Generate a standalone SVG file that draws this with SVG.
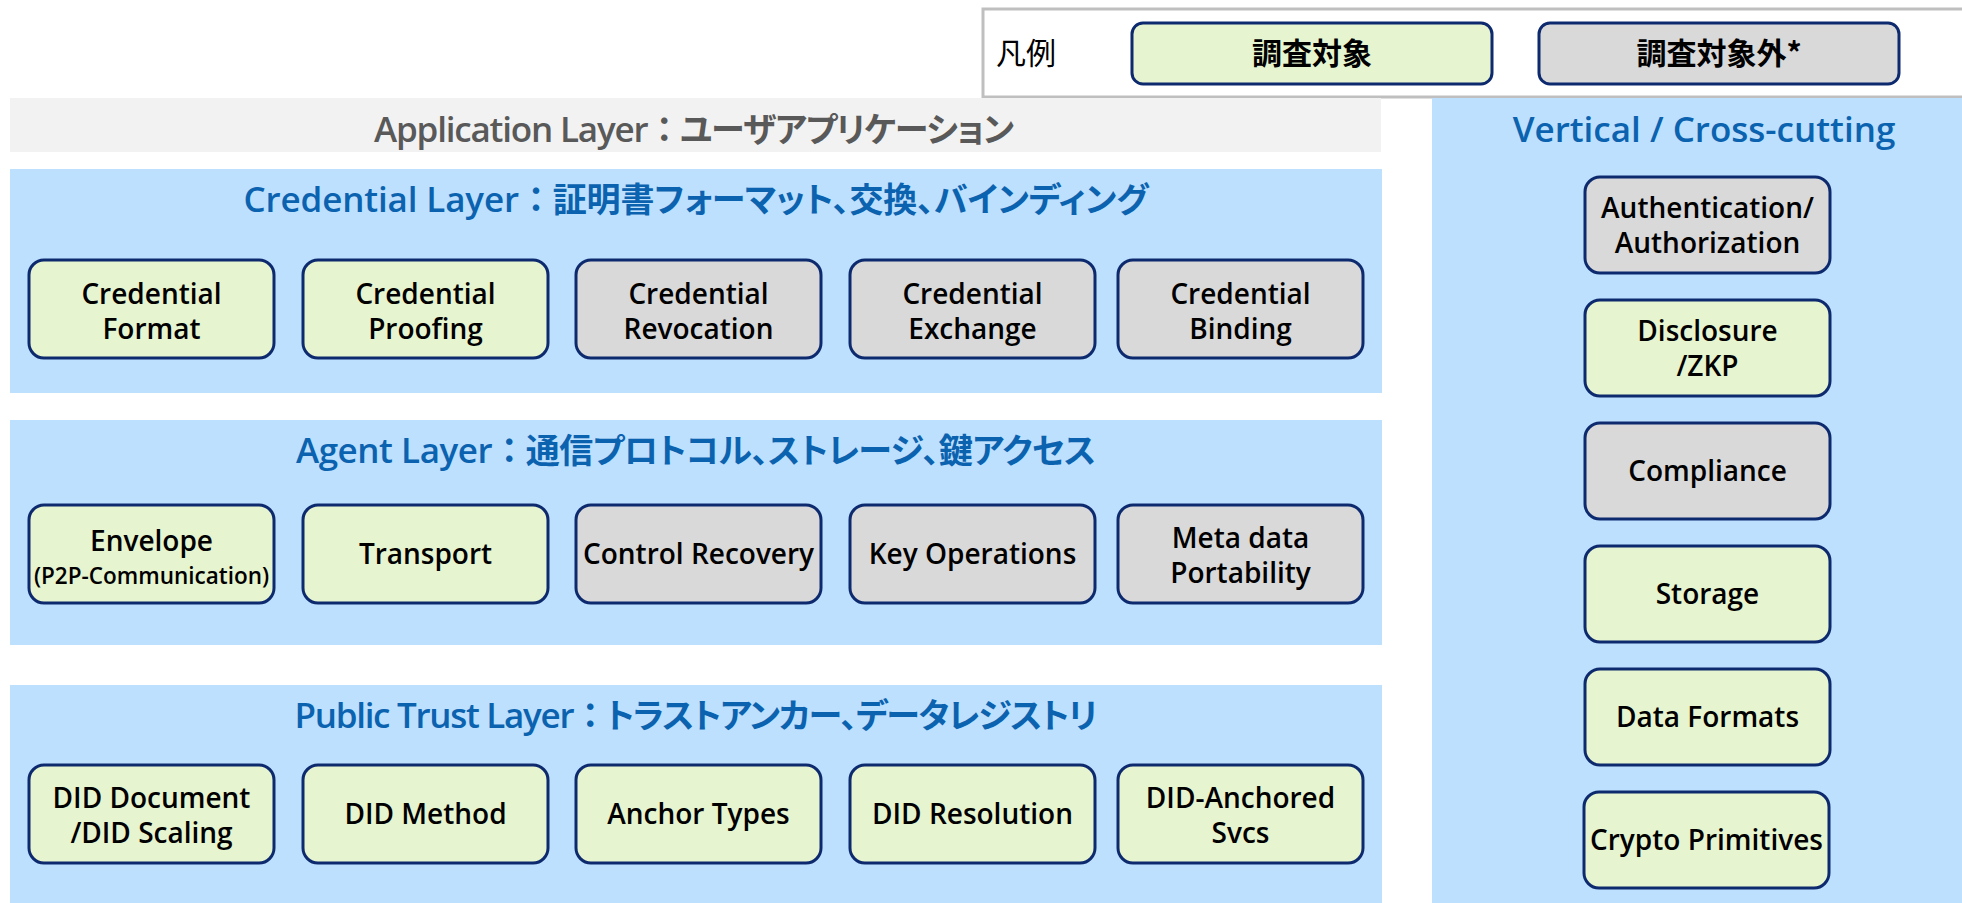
<svg xmlns="http://www.w3.org/2000/svg" width="1962" height="903" viewBox="0 0 1962 903">
  <style>
    .panel { fill: #bde0fe; }
    .box { stroke: #0d2a6e; stroke-width: 3; }
    .in { fill: #e6f4cf; }
    .out { fill: #d9d9d9; }
    .lbl { font-family: "Open Sans", "Noto Sans CJK JP", sans-serif; font-weight: 600; font-size: 28px; fill: #000; text-anchor: middle; }
    .small { font-size: 22.5px; }
    .title { font-family: "Open Sans", "Noto Sans CJK JP", sans-serif; font-weight: 600; font-size: 35px; fill: #0b63b0; text-anchor: middle; }
    .jp { font-family: "Noto Sans CJK JP", sans-serif; font-weight: 700; font-size: 34px; font-feature-settings: "palt"; }
    .colon { font-family: "Noto Sans CJK JP", sans-serif; font-weight: 700; font-size: 34px; }
    .gray { fill: #595959; }
    .leg { font-family: "Noto Sans CJK JP", sans-serif; font-size: 30px; fill: #000; }
    .legb { font-weight: 700; text-anchor: middle; }
  </style>

  <rect width="1962" height="903" fill="#ffffff"/>

  <!-- legend -->
  <g id="legend">
    <rect x="983" y="9" width="990" height="88" fill="#ffffff" stroke="#bfbfbf" stroke-width="3"/>
    <text class="leg" x="996" y="64">凡例</text>
    <rect class="box in" x="1132" y="23" width="360" height="61" rx="11"/>
    <text class="leg legb" x="1312" y="64">調査対象</text>
    <rect class="box out" x="1539" y="23" width="360" height="61" rx="11"/>
    <text class="leg legb" x="1719" y="64">調査対象外*</text>
  </g>

  <!-- application layer bar -->
  <g id="application-layer">
    <rect x="10" y="98" width="1371" height="54" fill="#f2f2f2"/>
    <text class="title gray" x="694" y="142" textLength="640" lengthAdjust="spacing">Application Layer<tspan class="colon">：</tspan><tspan class="jp">ユーザアプリケーション</tspan></text>
  </g>

  <!-- credential layer -->
  <g id="credential-layer">
    <rect class="panel" x="10" y="169" width="1372" height="224"/>
    <text class="title" x="696" y="212" textLength="905" lengthAdjust="spacing">Credential Layer<tspan class="colon">：</tspan><tspan class="jp">証明書フォーマット、交換、バインディング</tspan></text>
  </g>
  <g id="credential-format">
    <rect class="box in" x="29" y="260" width="245" height="98" rx="15"/>
    <text class="lbl" x="151.5" y="304">Credential</text>
    <text class="lbl" x="151.5" y="339">Format</text>
  </g>
  <g id="credential-proofing">
    <rect class="box in" x="303" y="260" width="245" height="98" rx="15"/>
    <text class="lbl" x="425.5" y="304">Credential</text>
    <text class="lbl" x="425.5" y="339">Proofing</text>
  </g>
  <g id="credential-revocation">
    <rect class="box out" x="576" y="260" width="245" height="98" rx="15"/>
    <text class="lbl" x="698.5" y="304">Credential</text>
    <text class="lbl" x="698.5" y="339">Revocation</text>
  </g>
  <g id="credential-exchange">
    <rect class="box out" x="850" y="260" width="245" height="98" rx="15"/>
    <text class="lbl" x="972.5" y="304">Credential</text>
    <text class="lbl" x="972.5" y="339">Exchange</text>
  </g>
  <g id="credential-binding">
    <rect class="box out" x="1118" y="260" width="245" height="98" rx="15"/>
    <text class="lbl" x="1240.5" y="304">Credential</text>
    <text class="lbl" x="1240.5" y="339">Binding</text>
  </g>

  <!-- agent layer -->
  <g id="agent-layer">
    <rect class="panel" x="10" y="420" width="1372" height="225"/>
    <text class="title" x="696" y="463" textLength="800" lengthAdjust="spacing">Agent Layer<tspan class="colon">：</tspan><tspan class="jp">通信プロトコル、ストレージ、鍵アクセス</tspan></text>
  </g>
  <g id="envelope">
    <rect class="box in" x="29" y="505" width="245" height="98" rx="15"/>
    <text class="lbl" x="151.5" y="551">Envelope</text>
    <text class="lbl small" x="151.5" y="584">(P2P-Communication)</text>
  </g>
  <g id="transport">
    <rect class="box in" x="303" y="505" width="245" height="98" rx="15"/>
    <text class="lbl" x="425.5" y="564">Transport</text>
  </g>
  <g id="control-recovery">
    <rect class="box out" x="576" y="505" width="245" height="98" rx="15"/>
    <text class="lbl" x="698.5" y="564">Control Recovery</text>
  </g>
  <g id="key-operations">
    <rect class="box out" x="850" y="505" width="245" height="98" rx="15"/>
    <text class="lbl" x="972.5" y="564">Key Operations</text>
  </g>
  <g id="metadata-portability">
    <rect class="box out" x="1118" y="505" width="245" height="98" rx="15"/>
    <text class="lbl" x="1240.5" y="548">Meta data</text>
    <text class="lbl" x="1240.5" y="583">Portability</text>
  </g>

  <!-- public trust layer -->
  <g id="public-trust-layer">
    <rect class="panel" x="10" y="685" width="1372" height="218"/>
    <text class="title" x="696" y="728" textLength="803" lengthAdjust="spacing">Public Trust Layer<tspan class="colon">：</tspan><tspan class="jp">トラストアンカー、データレジストリ</tspan></text>
  </g>
  <g id="did-document">
    <rect class="box in" x="29" y="765" width="245" height="98" rx="15"/>
    <text class="lbl" x="151.5" y="808">DID Document</text>
    <text class="lbl" x="151.5" y="843">/DID Scaling</text>
  </g>
  <g id="did-method">
    <rect class="box in" x="303" y="765" width="245" height="98" rx="15"/>
    <text class="lbl" x="425.5" y="824">DID Method</text>
  </g>
  <g id="anchor-types">
    <rect class="box in" x="576" y="765" width="245" height="98" rx="15"/>
    <text class="lbl" x="698.5" y="824">Anchor Types</text>
  </g>
  <g id="did-resolution">
    <rect class="box in" x="850" y="765" width="245" height="98" rx="15"/>
    <text class="lbl" x="972.5" y="824">DID Resolution</text>
  </g>
  <g id="did-anchored-svcs">
    <rect class="box in" x="1118" y="765" width="245" height="98" rx="15"/>
    <text class="lbl" x="1240.5" y="808">DID-Anchored</text>
    <text class="lbl" x="1240.5" y="843">Svcs</text>
  </g>

  <!-- vertical / cross-cutting column -->
  <g id="vertical">
    <rect class="panel" x="1432" y="98" width="530" height="805"/>
    <text class="title" x="1704" y="142">Vertical / Cross-cutting</text>
  </g>
  <g id="authn-authz">
    <rect class="box out" x="1585" y="177" width="245" height="96" rx="15"/>
    <text class="lbl" x="1707.5" y="218">Authentication/</text>
    <text class="lbl" x="1707.5" y="253">Authorization</text>
  </g>
  <g id="disclosure-zkp">
    <rect class="box in" x="1585" y="300" width="245" height="96" rx="15"/>
    <text class="lbl" x="1707.5" y="341">Disclosure</text>
    <text class="lbl" x="1707.5" y="376">/ZKP</text>
  </g>
  <g id="compliance">
    <rect class="box out" x="1585" y="423" width="245" height="96" rx="15"/>
    <text class="lbl" x="1707.5" y="481">Compliance</text>
  </g>
  <g id="storage">
    <rect class="box in" x="1585" y="546" width="245" height="96" rx="15"/>
    <text class="lbl" x="1707.5" y="604">Storage</text>
  </g>
  <g id="data-formats">
    <rect class="box in" x="1585" y="669" width="245" height="96" rx="15"/>
    <text class="lbl" x="1707.5" y="727">Data Formats</text>
  </g>
  <g id="crypto-primitives">
    <rect class="box in" x="1584" y="792" width="245" height="96" rx="15"/>
    <text class="lbl" x="1706.5" y="850">Crypto Primitives</text>
  </g>
</svg>
